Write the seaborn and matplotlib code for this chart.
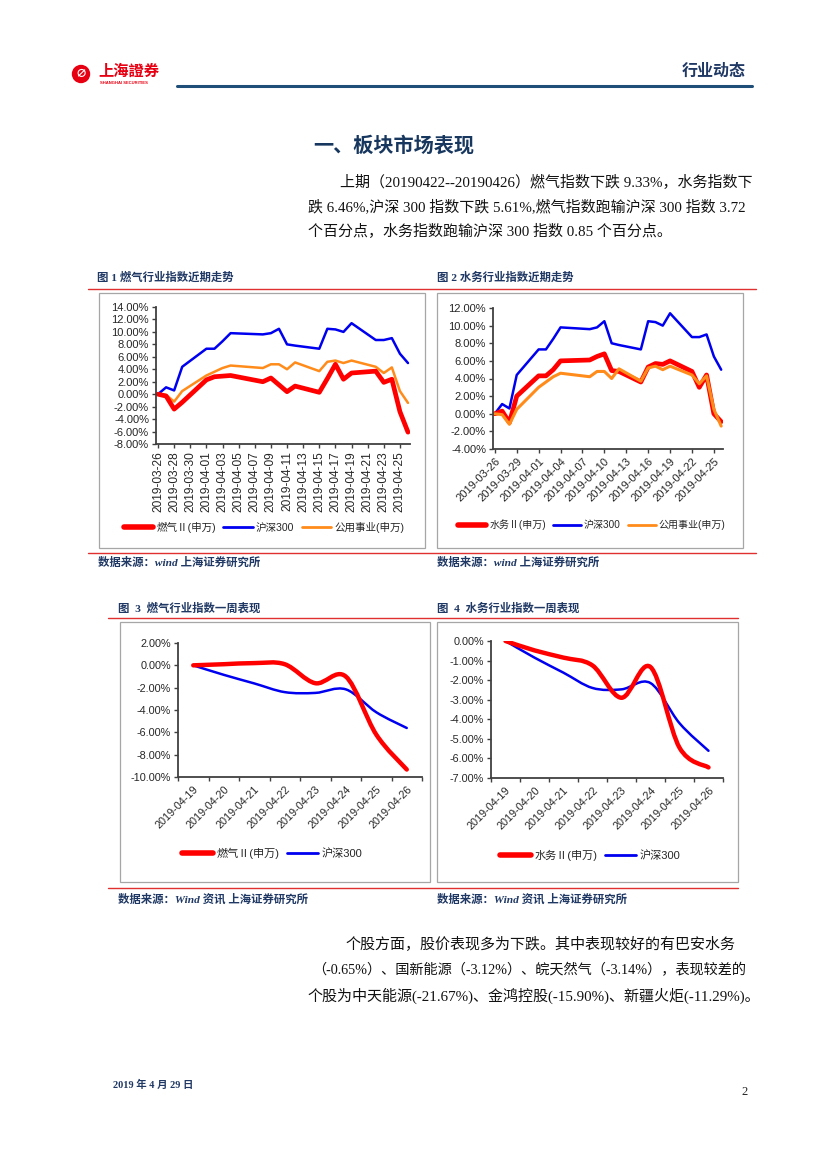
import numpy as np
import pandas as pd
import matplotlib
matplotlib.use('Agg')
import matplotlib.pyplot as plt
from matplotlib.path import Path
from matplotlib.patches import PathPatch, Rectangle, Ellipse
from matplotlib.lines import Line2D
import seaborn as sns

sns.set_theme(style='ticks')
plt.rcParams['font.family'] = ['Liberation Sans', 'Noto Sans CJK SC', 'DejaVu Sans']
plt.rcParams['axes.unicode_minus'] = False

# ---- data (% cumulative change) ----
trade_dates = ['2019-03-26', '2019-03-27', '2019-03-28', '2019-03-29',
               '2019-04-01', '2019-04-02', '2019-04-03', '2019-04-04',
               '2019-04-08', '2019-04-09', '2019-04-10', '2019-04-11', '2019-04-12',
               '2019-04-15', '2019-04-16', '2019-04-17', '2019-04-18', '2019-04-19',
               '2019-04-22', '2019-04-23', '2019-04-24', '2019-04-25', '2019-04-26']
gas = [0.0, -0.3, -2.4, -1.3, 2.3, 2.8, 2.9, 3.0, 2.0, 2.6, 1.5, 0.4, 1.3,
       0.3, 2.5, 4.8, 2.4, 3.4, 3.7, 1.9, 2.4, -2.8, -6.1]
water = [0.0, 0.3, -1.0, 2.0, 4.3, 4.3, 5.0, 6.0, 6.1, 6.5, 6.8, 4.9, 4.8,
         3.6, 5.3, 5.7, 5.6, 6.0, 4.8, 3.0, 4.4, 0.0, -0.9]
hs300 = [0.0, 1.1, 0.6, 4.4, 7.3, 7.3, 8.5, 9.8, 9.6, 9.8, 10.5, 8.0, 7.8,
         7.3, 10.5, 10.4, 10.0, 11.4, 8.7, 8.7, 9.0, 6.5, 5.0]
utility = [0.0, -0.1, -1.2, 0.5, 3.0, 3.6, 4.2, 4.6, 4.2, 4.8, 4.8, 4.0, 5.1,
           3.7, 5.2, 5.4, 5.0, 5.4, 4.4, 3.4, 4.3, 0.5, -1.4]

week_days = ['2019-04-19', '2019-04-20', '2019-04-21', '2019-04-22',
             '2019-04-23', '2019-04-24', '2019-04-25', '2019-04-26']
gas_week = [0.0, 0.1, 0.2, 0.1, -1.6, -1.0, -6.2, -9.33]
water_week = [0.0, -0.48, -0.85, -1.25, -2.9, -1.33, -5.45, -6.46]
hs300_week = [0.0, -0.85, -1.62, -2.4, -2.47, -2.15, -4.2, -5.61]

RED, BLUE, ORANGE = '#FF0000', '#0000F0', '#FF8C1A'
NAVY = '#1F3864'
W, H = 827, 1169

fig = plt.figure(figsize=(8.27, 11.69), dpi=100)


def rect(l, t, r, b):
    return [l / W, 1 - b / H, (r - l) / W, (b - t) / H]


def ftext(x, y, s, **kw):
    fig.text(x / W, 1 - y / H, s, va='center', **kw)


def hline(x0, x1, y, color, lw):
    fig.add_artist(Line2D([x0 / W, x1 / W], [1 - y / H, 1 - y / H], color=color, lw=lw))


def box(l, t, r, b):
    fig.add_artist(Rectangle((l / W, 1 - b / H), (r - l) / W, (b - t) / H, fill=False,
                             edgecolor='#a6a6a6', lw=0.9, transform=fig.transFigure))


def smooth_line(ax, xs, ys, color, lw):
    # Excel-like smoothed line (Catmull-Rom as cubic Bezier in data space)
    pts = np.column_stack([xs, ys]).astype(float)
    n = len(pts)
    verts, codes = [pts[0]], [Path.MOVETO]
    for i in range(n - 1):
        p0, p1 = pts[max(i - 1, 0)], pts[i]
        p2, p3 = pts[i + 1], pts[min(i + 2, n - 1)]
        verts += [p1 + (p2 - p0) / 6, p2 - (p3 - p1) / 6, p2]
        codes += [Path.CURVE4] * 3
    ax.add_patch(PathPatch(Path(verts, codes), fill=False, edgecolor=color, lw=lw,
                           capstyle='round', joinstyle='round'))


def style_axes(ax, ylo, yhi, step, fs):
    for s in ['top', 'right']:
        ax.spines[s].set_visible(False)
    for s in ['left', 'bottom']:
        ax.spines[s].set_color('#404040')
        ax.spines[s].set_linewidth(1.3)
    ax.set_ylim(ylo, yhi)
    yt = np.arange(ylo, yhi + 0.001, step)
    ax.set_yticks(yt)
    ax.set_yticklabels([f'{v:.2f}%' for v in yt], fontsize=fs)
    ax.tick_params(axis='both', direction='out', length=3, width=1, color='#404040', pad=2)
    ax.set_xlabel('')
    ax.set_ylabel('')
    ax.grid(False)


def add_legend(ax, items, cx, cy, fs=7.6):
    handles = [Line2D([], [], color=c, lw=lw) for _, c, lw in items]
    ax.legend(handles, [t for t, _, _ in items], loc='center', ncol=len(items),
              bbox_to_anchor=(cx / W, 1 - cy / H), bbox_transform=fig.transFigure,
              frameon=False, fontsize=fs, handlelength=2.8, handletextpad=0.3,
              columnspacing=0.7)


# ---- header ----
fig.add_artist(Ellipse((81 / W, 1 - 74 / H), 17 / W, 17 / H, color='#E60012',
                       transform=fig.transFigure))
ftext(81, 74, '∅', color='white', fontsize=8, ha='center', fontweight='bold')
ftext(98, 71, '上海證券', color='#E60012', fontsize=11, fontweight='bold',
      family=['Noto Sans CJK SC'])
ftext(100, 83, 'SHANGHAI SECURITIES', color='#E60012', fontsize=3, fontweight='bold')
ftext(746, 71, '行业动态', color=NAVY, fontsize=11.5, fontweight='bold', ha='right',
      family=['Noto Sans CJK SC'])
hline(177, 752, 86, '#1F4E79', 2.2)

ftext(394, 145, '一、板块市场表现', color='#17375E', fontsize=14.5, fontweight='bold',
      ha='center', family=['Noto Sans CJK SC'])

body = ['Liberation Serif', 'Noto Sans CJK SC']
bfs = 10.8
ftext(340, 182, '上期（20190422--20190426）燃气指数下跌 9.33%，水务指数下',
      fontsize=bfs, family=body, color='#111111')
ftext(308, 207, '跌 6.46%,沪深 300 指数下跌 5.61%,燃气指数跑输沪深 300 指数 3.72',
      fontsize=bfs, family=body, color='#111111')
ftext(308, 232, '个百分点，水务指数跑输沪深 300 指数 0.85 个百分点。',
      fontsize=bfs, family=body, color='#111111')

cap = ['Liberation Serif', 'Noto Sans CJK SC']
ftext(97, 277, '图 1 燃气行业指数近期走势', color=NAVY, fontsize=8.2, fontweight='bold', family=cap)
ftext(437, 277, '图 2 水务行业指数近期走势', color=NAVY, fontsize=8.2, fontweight='bold', family=cap)
hline(88, 756, 289, '#E03030', 1.0)
box(99, 293, 425, 548)
box(437, 293, 743, 548)
hline(88, 756, 553, '#E03030', 1.0)
ftext(98, 562, '数据来源：wind 上海证券研究所', color=NAVY, fontsize=8.2,
      fontweight='bold', fontstyle='italic', family=cap)
ftext(437, 562, '数据来源：wind 上海证券研究所', color=NAVY, fontsize=8.2,
      fontweight='bold', fontstyle='italic', family=cap)

ftext(118, 608, '图  3  燃气行业指数一周表现', color=NAVY, fontsize=8.2, fontweight='bold', family=cap)
ftext(437, 608, '图  4  水务行业指数一周表现', color=NAVY, fontsize=8.2, fontweight='bold', family=cap)
hline(108, 738, 618, '#E03030', 1.0)
box(120, 622, 430, 882)
box(437, 622, 738, 882)
hline(108, 738, 888, '#E03030', 1.0)
ftext(118, 899, '数据来源：Wind 资讯 上海证券研究所', color=NAVY, fontsize=8.2,
      fontweight='bold', fontstyle='italic', family=cap)
ftext(437, 899, '数据来源：Wind 资讯 上海证券研究所', color=NAVY, fontsize=8.2,
      fontweight='bold', fontstyle='italic', family=cap)

ftext(345, 945, '个股方面，股价表现多为下跌。其中表现较好的有巴安水务',
      fontsize=bfs, family=body, color='#111111')
ftext(312, 970, '（-0.65%）、国新能源（-3.12%）、皖天然气（-3.14%），表现较差的',
      fontsize=10.2, family=body, color='#111111')
ftext(308, 996, '个股为中天能源(-21.67%)、金鸿控股(-15.90%)、新疆火炬(-11.29%)。',
      fontsize=bfs, family=body, color='#111111')

ftext(113, 1085, '2019 年 4 月 29 日', color=NAVY, fontsize=7.5, fontweight='bold', family=cap)
ftext(748, 1092, '2', fontsize=9, family=body, ha='right', color='#222222')

# ---- chart 1 & 2: recent trend ----
dates = pd.to_datetime(trade_dates)
start, end = pd.Timestamp('2019-03-26'), pd.Timestamp('2019-04-26')

ax1 = fig.add_axes(rect(156, 307, 410, 444))
sns.lineplot(x=dates, y=utility, ax=ax1, color=ORANGE, lw=1.8)
sns.lineplot(x=dates, y=hs300, ax=ax1, color=BLUE, lw=1.8)
sns.lineplot(x=dates, y=gas, ax=ax1, color=RED, lw=3.4)
style_axes(ax1, -8, 14, 2, 8)
ax1.set_xlim(start - pd.Timedelta(hours=6), end + pd.Timedelta(hours=6))
t1 = pd.date_range('2019-03-26', '2019-04-25', freq='2D')
ax1.set_xticks(t1)
ax1.set_xticklabels([d.strftime('%Y-%m-%d') for d in t1], rotation=90, fontsize=8.6)
add_legend(ax1, [('燃气Ⅱ(申万)', RED, 4), ('沪深300', BLUE, 2), ('公用事业(申万)', ORANGE, 2)],
           264, 527)

ax2 = fig.add_axes(rect(493, 308, 723, 449))
sns.lineplot(x=dates, y=hs300, ax=ax2, color=BLUE, lw=1.8)
sns.lineplot(x=dates, y=water, ax=ax2, color=RED, lw=3.4)
sns.lineplot(x=dates, y=utility, ax=ax2, color=ORANGE, lw=2.2)
style_axes(ax2, -4, 12, 2, 8)
ax2.set_xlim(start - pd.Timedelta(hours=6), end + pd.Timedelta(hours=6))
t2 = pd.date_range('2019-03-26', '2019-04-25', freq='3D')
ax2.set_xticks(t2)
ax2.set_xticklabels([d.strftime('%Y-%m-%d') for d in t2], rotation=45, ha='right',
                    rotation_mode='anchor', fontsize=8)
add_legend(ax2, [('水务Ⅱ(申万)', RED, 4), ('沪深300', BLUE, 2), ('公用事业(申万)', ORANGE, 2)],
           592, 525, fs=7.2)

# ---- chart 3 & 4: one week ----
pos = np.arange(len(week_days))
for ax_rect, series, lo, hi, step, name, lc in [
        (rect(178, 643, 422, 777), gas_week, -10, 2, 2, '燃气Ⅱ(申万)', (272, 853)),
        (rect(491, 641, 723, 778), water_week, -7, 0, 1, '水务Ⅱ(申万)', (590, 855))]:
    ax = fig.add_axes(ax_rect)
    smooth_line(ax, pos, hs300_week, BLUE, 1.8)
    smooth_line(ax, pos, series, RED, 3.2)
    style_axes(ax, lo, hi, step, 7.8)
    ax.set_xlim(-0.5, len(pos) - 0.5)
    ax.set_xticks(pos)
    ax.set_xticklabels(week_days, rotation=45, ha='right', rotation_mode='anchor', fontsize=7.8)
    ax.set_xticks(np.arange(-0.5, len(pos)), minor=True)
    ax.tick_params(axis='x', which='major', length=0, pad=5)
    ax.tick_params(axis='x', which='minor', direction='out', length=3, width=1, color='#404040')
    add_legend(ax, [(name, RED, 4), ('沪深300', BLUE, 2)], *lc, fs=8)

fig.savefig('out.png', dpi=100, facecolor='white')
